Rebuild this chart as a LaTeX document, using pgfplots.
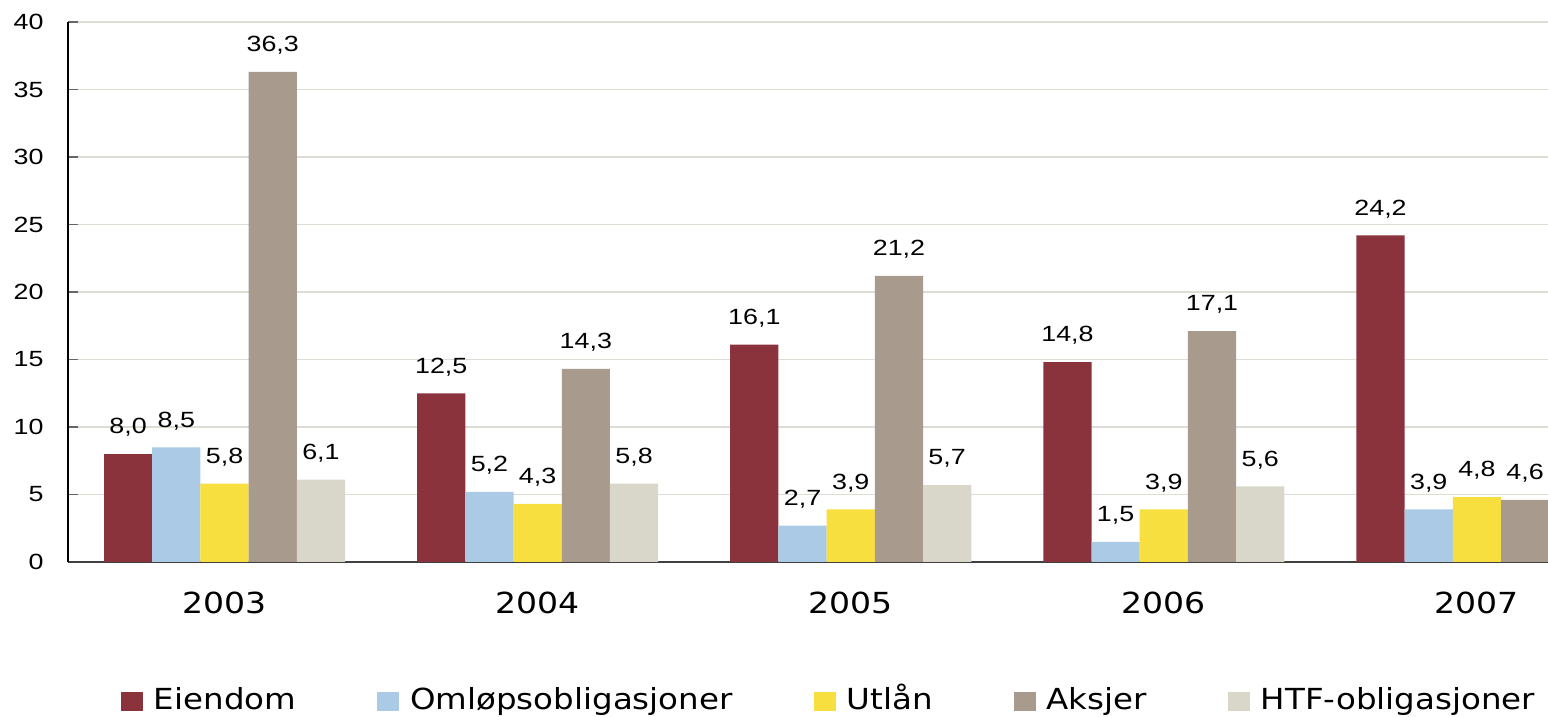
\documentclass[border=0pt]{standalone}
\usepackage{pgfplots}
\pgfplotsset{compat=1.18}
\usepackage{fontspec}
\setmainfont{Liberation Sans}
\newfontfamily\numfont[FakeStretch=1.22]{Liberation Sans}
\newfontfamily\yearfont[FakeStretch=1.14]{DejaVu Sans}
\newfontfamily\legfont[FakeStretch=1.12]{DejaVu Sans}
\definecolor{cEiendom}{RGB}{139,51,61}
\definecolor{cOml}{RGB}{170,202,230}
\definecolor{cUtlan}{RGB}{247,223,64}
\definecolor{cAksjer}{RGB}{168,155,142}
\definecolor{cHTF}{RGB}{217,215,202}
\definecolor{gridc}{RGB}{221,221,213}
\begin{document}
\begin{tikzpicture}
\useasboundingbox (0,0) rectangle (774bp,358.5bp);
\begin{axis}[
  at={(34bp,77.5bp)}, anchor=south west,
  width=740bp, height=270bp, scale only axis,
  xmin=-0.5, xmax=4.227, ymin=0, ymax=40,
  ybar=0pt, bar width=24.1bp,
  axis x line*=bottom, axis y line*=left,
  x axis line style={draw=black!75, line width=0.75bp},
  y axis line style={draw=black, line width=0.75bp},
  ytick={0,5,...,40},
  xtick={0,1,2,3,4},
  xticklabels={2003,2004,2005,2006,2007},
  ymajorgrids, grid style={draw=gridc, line width=0.75bp},
  tick align=inside, major tick length=5bp,
  xtick style={draw=none},
  ytick style={draw=black!60, line width=0.75bp},
  /pgf/number format/assume math mode=true,
  yticklabel style={font=\fontsize{11bp}{13bp}\numfont, anchor=east, inner sep=0pt, xshift=-12bp},
  xticklabel style={font=\fontsize{14.5bp}{17bp}\yearfont, anchor=north, inner sep=0pt, yshift=-15bp},
  nodes near coords={\pgfmathprintnumber[fixed,fixed zerofill,precision=1,use comma,assume math mode=true]{\pgfplotspointmeta}},
  nodes near coords style={font=\fontsize{11bp}{13bp}\numfont, anchor=south, inner sep=0pt, yshift=8.5bp, text=black},
  legend columns=5,
  legend style={at={(0.5135,-0.26)}, anchor=center, draw=none, inner sep=0pt,
    font=\fontsize{14.5bp}{17bp}\legfont,
    nodes={inner sep=0pt, text height=11bp, text depth=3.5bp},
    /tikz/every odd column/.append style={column sep=5.5bp},
    /tikz/every even column/.append style={column sep=40.5bp}},
  legend image code/.code={\fill[#1] (0bp,-4.5bp) rectangle (11bp,5bp);},
]
\addplot[fill=cEiendom, draw=none] coordinates {(0,8.0) (1,12.5) (2,16.1) (3,14.8) (4,24.2)};
\addplot[fill=cOml, draw=none] coordinates {(0,8.5) (1,5.2) (2,2.7) (3,1.5) (4,3.9)};
\addplot[fill=cUtlan, draw=none] coordinates {(0,5.8) (1,4.3) (2,3.9) (3,3.9) (4,4.8)};
\addplot[fill=cAksjer, draw=none] coordinates {(0,36.3) (1,14.3) (2,21.2) (3,17.1) (4,4.6)};
\addplot[fill=cHTF, draw=none] coordinates {(0,6.1) (1,5.8) (2,5.7) (3,5.6)};
\legend{Eiendom, Omløpsobligasjoner, Utlån, Aksjer, HTF-obligasjoner}
\end{axis}
\end{tikzpicture}
\end{document}
